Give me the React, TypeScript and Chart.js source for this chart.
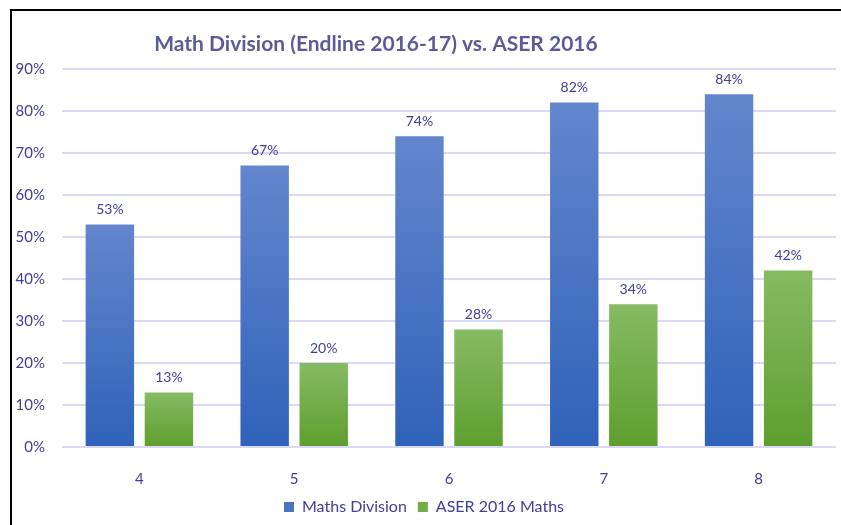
import React, { useEffect, useRef } from "react";
import { Chart, registerables } from "chart.js";

Chart.register(...registerables);

const categories = ["4", "5", "6", "7", "8"];
const mathsDivision = [53, 67, 74, 82, 84];
const aser2016Maths = [13, 20, 28, 34, 42];
const seriesNames = ["Maths Division", "ASER 2016 Maths"];
const titleText = "Math Division (Endline 2016-17) vs. ASER 2016";

const FONT = "Lato, 'Open Sans', sans-serif";
const TEXT = "#40409a";
const GRID = "#d9d9f5";

function barGradient(top: string, bottom: string) {
  return (ctx: any) => {
    const chart = ctx.chart;
    if (!chart.chartArea || ctx.raw == null) return bottom;
    const y = chart.scales.y;
    const g = chart.ctx.createLinearGradient(0, y.getPixelForValue(ctx.raw), 0, y.getPixelForValue(0));
    g.addColorStop(0, top);
    g.addColorStop(1, bottom);
    return g;
  };
}

const dataLabels = {
  id: "dataLabels",
  afterDatasetsDraw(chart: any) {
    const c = chart.ctx;
    c.save();
    c.font = `14px ${FONT}`;
    c.fillStyle = TEXT;
    c.textAlign = "center";
    c.textBaseline = "bottom";
    chart.data.datasets.forEach((ds: any, i: number) => {
      const meta = chart.getDatasetMeta(i);
      meta.data.forEach((el: any, j: number) => {
        c.fillText(`${Math.round(ds.data[j])}%`, el.x, el.y - 8);
      });
    });
    c.restore();
  },
};

const titlePlugin = {
  id: "customTitle",
  afterDraw(chart: any) {
    const c = chart.ctx;
    c.save();
    c.font = `bold 21px ${FONT}`;
    c.fillStyle = "#5b5b99";
    c.textAlign = "center";
    c.textBaseline = "middle";
    c.fillText(titleText, chart.width * 0.439, 33);
    c.restore();
  },
};

export default function App() {
  const ref = useRef<HTMLCanvasElement>(null);
  useEffect(() => {
    if (!ref.current) return;
    const chart = new Chart(ref.current, {
      type: "bar",
      data: {
        labels: categories,
        datasets: [
          {
            label: seriesNames[0],
            data: mathsDivision,
            backgroundColor: barGradient("#6386cd", "#2f62b9"),
            categoryPercentage: 0.763,
            barPercentage: 0.82,
          },
          {
            label: seriesNames[1],
            data: aser2016Maths,
            backgroundColor: barGradient("#86bb63", "#5e9e2e"),
            categoryPercentage: 0.763,
            barPercentage: 0.82,
          },
        ],
      },
      options: {
        animation: false,
        responsive: true,
        maintainAspectRatio: false,
        layout: { padding: { top: 58, right: 5, left: 0, bottom: 0 } },
        plugins: {
          title: { display: false },
          tooltip: { enabled: false },
          legend: {
            position: "bottom",
            labels: {
              boxWidth: 10,
              boxHeight: 10,
              padding: 11,
              color: TEXT,
              font: { family: FONT, size: 16 },
              generateLabels: (ch: any) =>
                ch.data.datasets.map((ds: any, i: number) => ({
                  text: ds.label,
                  fillStyle: i === 0 ? "#4a74c6" : "#72ad48",
                  strokeStyle: "transparent",
                  lineWidth: 0,
                  datasetIndex: i,
                  fontColor: TEXT,
                })),
            },
          },
        },
        scales: {
          x: {
            grid: { display: false, drawTicks: false },
            border: { display: false },
            afterFit: (s: any) => {
              s.height = 41;
            },
            ticks: { color: TEXT, font: { family: FONT, size: 15 }, padding: 23 },
          },
          y: {
            min: 0,
            max: 90,
            grid: { color: GRID, lineWidth: 2, drawTicks: false },
            border: { display: false },
            afterFit: (s: any) => {
              s.width = 50;
            },
            ticks: {
              stepSize: 10,
              color: TEXT,
              padding: 17,
              font: { family: FONT, size: 15 },
              callback: (v: any) => `${v}%`,
            },
          },
        },
      },
      plugins: [dataLabels, titlePlugin],
    });
    return () => chart.destroy();
  }, []);
  return (
    <div
      style={{
        position: "fixed",
        left: 10,
        top: 9,
        right: 0,
        bottom: 0,
        borderLeft: "2px solid #000",
        borderTop: "2px solid #000",
        background: "#fff",
      }}
    >
      <div style={{ position: "absolute", left: 0, top: 0, right: 0, bottom: 0 }}>
        <canvas ref={ref} />
      </div>
    </div>
  );
}
